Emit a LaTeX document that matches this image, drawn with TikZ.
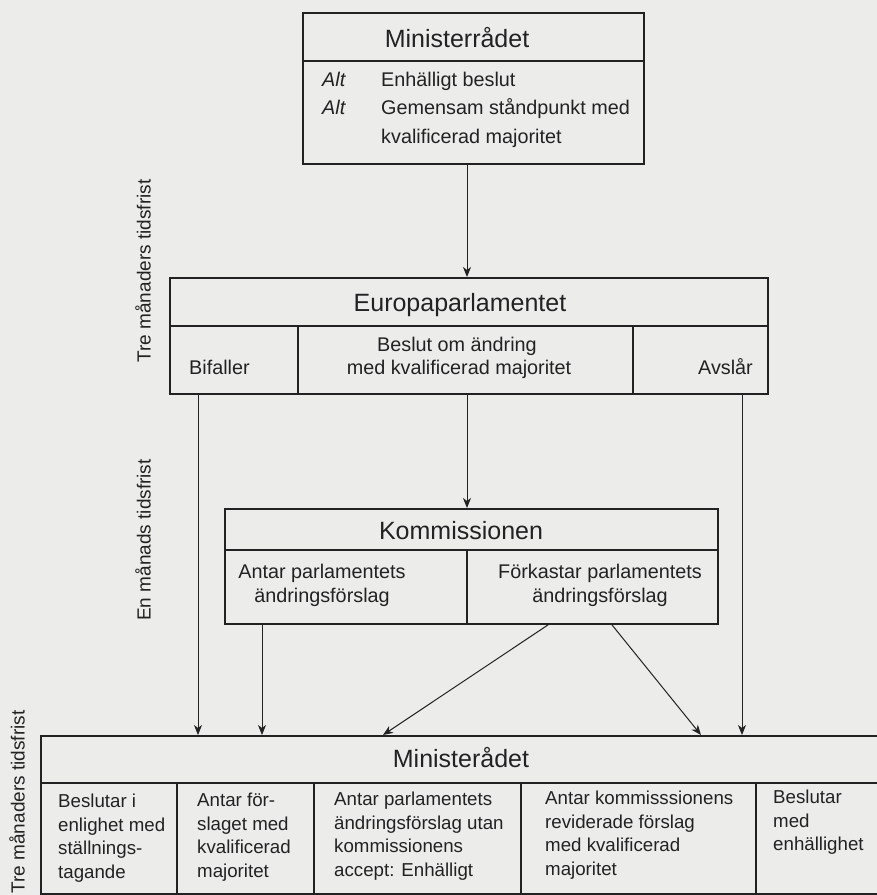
\documentclass[tikz,border=0pt]{standalone}
\usepackage{fontspec}
\setmainfont{Liberation Sans}
\usetikzlibrary{arrows.meta}
\definecolor{paper}{RGB}{236,236,235}
\definecolor{ink}{RGB}{34,34,34}
\begin{document}
\begin{tikzpicture}[x=1pt,y=-1pt,
  frame/.style={draw=ink, line width=1.9pt, inner sep=0pt, anchor=north west},
  rule/.style={draw=ink, line width=1.2pt},
  conn/.style={draw=ink, line width=1pt, -{Stealth[length=10pt,width=8pt,inset=3pt]}},
  title/.style={font=\fontsize{25}{30}\selectfont, text=ink, anchor=base},
  body/.style={font=\fontsize{19.8}{24}\selectfont, text=ink, anchor=base, inner sep=0pt},
  cell/.style={font=\fontsize{18.7}{23.5}\selectfont, text=ink, align=left, anchor=north west, inner sep=0pt},
  side/.style={font=\fontsize{19}{23}\selectfont, text=ink, rotate=90, inner sep=0pt}]
\fill[paper] (0,0) rectangle (877,895);
\useasboundingbox (0,0) rectangle (877,895);
\begin{scope}
\clip (0,0) rectangle (877,895);

% ---------- top: Ministerrådet ----------
\node[frame, minimum width=341pt, minimum height=151pt] (m1) at (302,12) {};
\draw[rule] (302,61) -- (643,61);
\node[title] (m1t) at (457,47) {Ministerrådet};
\node[body, anchor=base west] (alt1) at (322,86) {\itshape Alt};
\node[body, anchor=base west] (m1a) at (381,86) {Enhälligt beslut};
\node[body, anchor=base west] (alt2) at (322,114) {\itshape Alt};
\node[body, anchor=base west] (m1b) at (381,114) {Gemensam ståndpunkt med};
\node[body, anchor=base west] (m1c) at (381,143) {kvalificerad majoritet};

% ---------- Europaparlamentet ----------
\node[frame, minimum width=598pt, minimum height=116pt] (ep) at (169,277) {};
\draw[rule] (169,326) -- (767,326);
\draw[rule] (298,326) -- (298,393);
\draw[rule] (633,326) -- (633,393);
\node[title] (ept) at (460,311) {Europaparlamentet};
\node[body, anchor=base west] (bif) at (189,374) {Bifaller};
\node[body] (epa) at (457,351) {Beslut om ändring};
\node[body] (epb) at (459,374) {med kvalificerad majoritet};
\node[body, anchor=base east] (avs) at (753,374) {Avslår};

% ---------- Kommissionen ----------
\node[frame, minimum width=493pt, minimum height=115pt] (kom) at (224,508) {};
\draw[rule] (224,550) -- (717,550);
\draw[rule] (467,550) -- (467,623);
\node[title] (komt) at (461,539) {Kommissionen};
\node[body] (ka1) at (322,578) {Antar parlamentets};
\node[body] (ka2) at (322,602) {ändringsförslag};
\node[body] (kf1) at (600,578) {Förkastar parlamentets};
\node[body] (kf2) at (600,602) {ändringsförslag};

% ---------- bottom: Ministerådet ----------
\node[frame, minimum width=860pt, minimum height=158pt] (m2) at (40,735) {};
\draw[rule] (40,783) -- (900,783);
\foreach \cx in {177,314,521,756} \draw[rule] (\cx,783) -- (\cx,895);
\node[title] (m2t) at (461,767) {Ministerådet};
\node[cell] (c1) at (58,791) {\strut Beslutar i\\enlighet med\\ställnings-\\tagande};
\node[cell] (c2) at (197,790) {\strut Antar för-\\slaget med\\kvalificerad\\majoritet};
\node[cell] (c3) at (334,789) {\strut Antar parlamentets\\ändringsförslag utan\\kommissionens\\accept: Enhälligt};
\node[cell] (c4) at (545,788) {\strut Antar kommisssionens\\reviderade förslag\\med kvalificerad\\majoritet};
\node[cell] (c5) at (773,787) {\strut Beslutar\\med\\enhällighet};

% ---------- side labels ----------
\node[side] (s1) at (143,271) {Tre månaders tidsfrist};
\node[side] (s2) at (143,540) {En månads tidsfrist};
\node[side] (s3) at (17,802) {Tre månaders tidsfrist};

% ---------- connectors ----------
\coordinate (xmid) at (467,0);
\coordinate (xbif) at (198,0);
\coordinate (xavs) at (742,0);
\coordinate (xant) at (262,0);
\coordinate (xd1s) at (548,0);
\coordinate (xd1e) at (383,0);
\coordinate (xd2s) at (612,0);
\coordinate (xd2e) at (701,0);
\draw[conn] (m1.south -| xmid) -- (ep.north -| xmid);
\draw[conn] (ep.south -| xmid) -- (kom.north -| xmid);
\draw[conn] (ep.south -| xbif) -- (m2.north -| xbif);
\draw[conn] (ep.south -| xavs) -- (m2.north -| xavs);
\draw[conn] (kom.south -| xant) -- (m2.north -| xant);
\draw[conn] (kom.south -| xd1s) -- (m2.north -| xd1e);
\draw[conn] (kom.south -| xd2s) -- (m2.north -| xd2e);
\end{scope}
\end{tikzpicture}
\end{document}
